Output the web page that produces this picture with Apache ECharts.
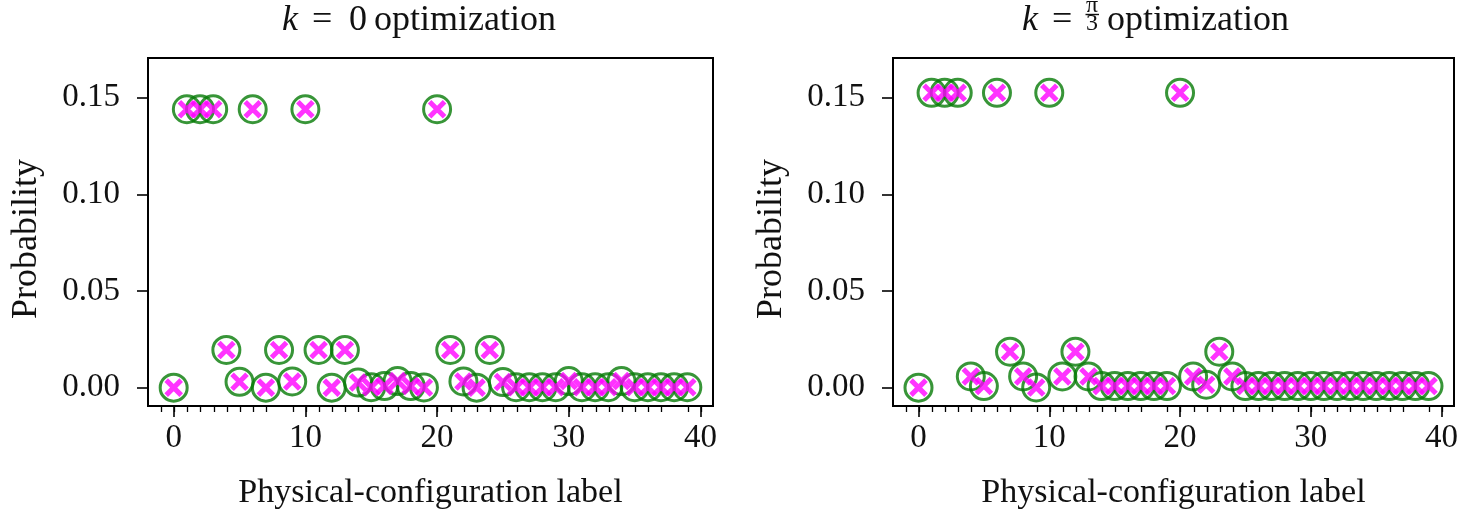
<!DOCTYPE html>
<html>
<head>
<meta charset="utf-8">
<script src="https://cdn.jsdelivr.net/npm/echarts@6/dist/echarts.min.js"></script>
<style>
  html, body { margin: 0; padding: 0; background: #fff; }
  #chart { width: 1463px; height: 509px; }
</style>
</head>
<body>
<div id="chart"></div>
<script>
// Physical-configuration labels 0..39
const configLabels = Array.from({ length: 40 }, (_, i) => i);

// Probability of each configuration, k = 0 optimization
const probK0 = [
  0.0000, 0.1440, 0.1440, 0.1440, 0.0195, 0.0030, 0.1440, 0.0000, 0.0195, 0.0032,
  0.1440, 0.0195, 0.0000, 0.0195, 0.0026, 0.0002, 0.0008, 0.0034, 0.0008, 0.0001,
  0.1440, 0.0195, 0.0032, 0.0000, 0.0195, 0.0029, 0.0002, 0.0002, 0.0002, 0.0002,
  0.0034, 0.0002, 0.0002, 0.0002, 0.0034, 0.0002, 0.0002, 0.0002, 0.0002, 0.0002
];

// Probability of each configuration, k = pi/3 optimization
const probKPi3 = [
  0.0000, 0.1525, 0.1525, 0.1525, 0.0058, 0.0008, 0.1525, 0.0186, 0.0058, 0.0001,
  0.1525, 0.0058, 0.0186, 0.0058, 0.0008, 0.0008, 0.0008, 0.0008, 0.0008, 0.0008,
  0.1525, 0.0058, 0.0015, 0.0186, 0.0058, 0.0008, 0.0008, 0.0008, 0.0008, 0.0008,
  0.0008, 0.0008, 0.0008, 0.0008, 0.0008, 0.0008, 0.0008, 0.0008, 0.0008, 0.0008
];

const xTicks = [0, 10, 20, 30, 40];
const yTicks = [0.00, 0.05, 0.10, 0.15];

const FONT = '"Liberation Serif", "DejaVu Serif", serif';
const FS = 33;
const TXT = '#111';
const GREEN = '#067a06';
const MAGENTA = '#ff00ff';
const CROSS = 'path://M0,0L10,10M10,0L0,10';

const pair = (ys) => configLabels.map((x, i) => [x, ys[i]]);

function xAxis(idx) {
  return {
    type: 'value', gridIndex: idx, min: -1.95, max: 40.95,
    interval: 10,
    axisLine: { show: true, onZero: false, lineStyle: { color: '#000', width: 2 } },
    axisTick: { show: true, length: 11, lineStyle: { color: '#000', width: 1.6 }, customValues: xTicks },
    minorTick: { show: true, splitNumber: 10, length: 6, lineStyle: { color: '#000', width: 1.3 } },
    splitLine: { show: false },
    axisLabel: { customValues: xTicks, color: TXT, fontFamily: FONT, fontSize: FS, margin: 16 },
    name: 'Physical-configuration label', nameLocation: 'middle', nameGap: 70,
    nameTextStyle: { color: TXT, fontFamily: FONT, fontSize: 34 }
  };
}
function yAxis(idx) {
  return {
    type: 'value', gridIndex: idx, min: -0.0095, max: 0.1705,
    axisLine: { show: true, onZero: false, lineStyle: { color: '#000', width: 2 } },
    axisTick: { show: true, length: 11, lineStyle: { color: '#000', width: 1.6 }, customValues: yTicks },
    splitLine: { show: false },
    axisLabel: { customValues: yTicks, color: TXT, fontFamily: FONT, fontSize: FS, margin: 28,
      formatter: v => v.toFixed(2) },
    name: 'Probability', nameLocation: 'middle', nameGap: 103, nameRotate: 90,
    nameTextStyle: { color: TXT, fontFamily: FONT, fontSize: 36, padding: [0, 14, 0, 0] }
  };
}
function circles(idx, ys) {
  return {
    type: 'scatter', xAxisIndex: idx, yAxisIndex: idx, data: pair(ys),
    symbol: 'circle', symbolSize: 27,
    itemStyle: { color: 'rgba(0,0,0,0)', borderColor: GREEN, borderWidth: 3 },
    silent: true, z: 2
  };
}
function crosses(idx, ys) {
  return {
    type: 'scatter', xAxisIndex: idx, yAxisIndex: idx, data: pair(ys),
    symbol: CROSS, symbolSize: 15,
    itemStyle: { color: 'none', borderColor: MAGENTA, borderWidth: 5 },
    silent: true, z: 3
  };
}

// Title pieces: italic k, "=", the value and the word, set on one line
function word(text, x, opts) {
  return { type: 'text', x: x, y: 3,
    style: Object.assign({ text: text, fontFamily: FONT, fontSize: 36, fill: TXT, verticalAlign: 'top' }, opts || {}) };
}

const chart = echarts.init(document.getElementById('chart'), null, { renderer: 'canvas' });
chart.setOption({
  backgroundColor: '#fff',
  animation: false,
  grid: [
    { left: 148, top: 58, width: 565, height: 348, outerBoundsMode: 'none', containLabel: false,
      show: true, borderColor: '#000', borderWidth: 2, backgroundColor: 'transparent' },
    { left: 893, top: 58, width: 561, height: 348, outerBoundsMode: 'none', containLabel: false,
      show: true, borderColor: '#000', borderWidth: 2, backgroundColor: 'transparent' }
  ],
  graphic: [
    // k = 0 optimization
    word('k', 282, { fontStyle: 'italic' }),
    word('=', 312),
    word('0', 349),
    word('optimization', 374),
    // k = pi/3 optimization
    word('k', 1022, { fontStyle: 'italic' }),
    word('=', 1052),
    { type: 'text', x: 1092, y: -6, style: { text: 'π', fontFamily: FONT, fontSize: 24, fill: TXT, align: 'center', verticalAlign: 'top' } },
    { type: 'line', shape: { x1: 1085.5, y1: 14.5, x2: 1099, y2: 14.5 }, style: { stroke: TXT, lineWidth: 1.4 } },
    { type: 'text', x: 1092, y: 12, style: { text: '3', fontFamily: FONT, fontSize: 24, fill: TXT, align: 'center', verticalAlign: 'top' } },
    word('optimization', 1107)
  ],
  xAxis: [xAxis(0), xAxis(1)],
  yAxis: [yAxis(0), yAxis(1)],
  series: [
    circles(0, probK0), crosses(0, probK0),
    circles(1, probKPi3), crosses(1, probKPi3)
  ]
});
</script>
</body>
</html>
